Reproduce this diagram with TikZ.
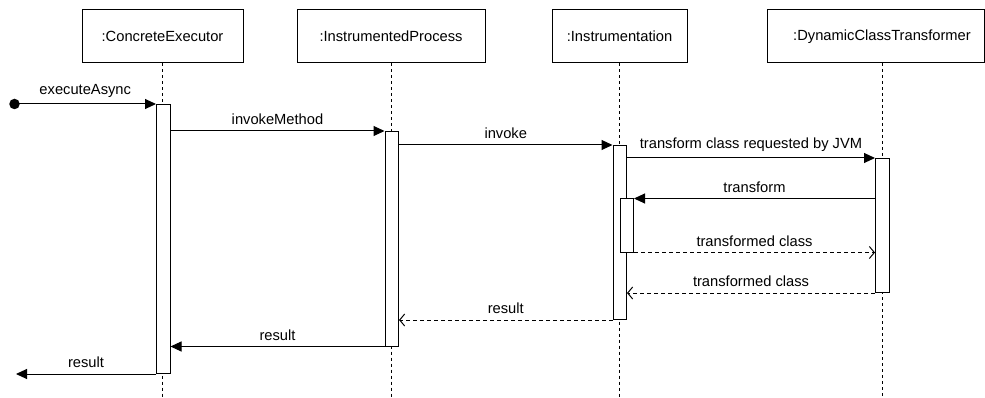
\documentclass[tikz,border=0pt]{standalone}
\usepackage{fontspec}
\setmainfont{Liberation Sans}
\usetikzlibrary{arrows.meta}
\begin{document}
\begin{tikzpicture}[x=1pt,y=-1pt,line width=1pt,
  txt/.style={font=\fontsize{14.7}{17}\selectfont},
  obj/.style={draw,txt,minimum height=53pt,inner sep=0pt},
  life/.style={dash pattern=on 3pt off 3pt,line width=0.9pt},
  act/.style={draw,fill=white,inner sep=0pt,minimum width=13.5pt,anchor=north west},
  msg/.style={-{Triangle[length=11pt,width=10pt]}},
  ret/.style={dash pattern=on 4pt off 3pt,-{Straight Barb[length=5pt,width=12pt,line width=1pt]}},
  lbl/.style={txt,above,inner sep=0pt,yshift=5.5pt}]
\useasboundingbox (0,0) rectangle (985,398);
% lifeline heads
\node[obj,minimum width=161pt] (ce) at (162.5,36.5) {:ConcreteExecutor};
\node[obj,minimum width=188pt] (ip) at (391,36.5) {:InstrumentedProcess};
\node[obj,minimum width=135pt] (in) at (619.5,36.5) {:Instrumentation};
\node[obj,minimum width=217pt] (dc) at (875.5,36.5) {\hspace*{13pt}:DynamicClassTransformer};
\coordinate (dcL) at (882,63);
% lifelines
\draw[life] (ce.south) -- (ce.south |- 0,398);
\draw[life] (ip.south) -- (ip.south |- 0,398);
\draw[life] (in.south) -- (in.south |- 0,398);
\draw[life] (dcL) -- (dcL |- 0,398);
% activations
\node[act,minimum height=269pt] (ceA) at (156,104) {};
\node[act,minimum height=214.5pt] (ipA) at (384.5,131) {};
\node[act,minimum height=174pt] (inA) at (612.5,145) {};
\node[act,minimum height=53pt] (inB) at (619.5,198.5) {};
\node[act,minimum height=134pt] (dcA) at (875,158) {};
% start / end
\node[circle,fill,inner sep=0pt,minimum size=10.5pt] (start) at (14.5,104) {};
\coordinate (out) at (16,373);
% messages
\draw[msg] (start.center) -- node[lbl]{executeAsync} (ceA.north west);
\draw[msg] (ceA.east |- ipA.north) -- node[lbl]{invokeMethod} (ipA.north west);
\draw[msg] (ipA.east |- inA.north) -- node[lbl]{invoke} (inA.north west);
\draw[msg] (inA.east |- dcA.north) -- node[lbl]{transform class requested by JVM} (dcA.north west);
\draw[msg] (dcA.west |- inB.north) -- node[lbl]{transform} (inB.north east);
\draw[ret] (inB.south east) -- node[lbl]{transformed class} (dcA.west |- inB.south);
\draw[ret] (dcA.south west) -- node[lbl]{transformed class} (inA.east |- dcA.south);
\draw[ret] (inA.south west) -- node[lbl]{result} (ipA.east |- inA.south);
\draw[msg] (ipA.south west) -- node[lbl]{result} (ceA.east |- ipA.south);
\draw[msg] (ceA.south west) -- node[lbl]{result} (out |- ceA.south west);
\end{tikzpicture}
\end{document}
